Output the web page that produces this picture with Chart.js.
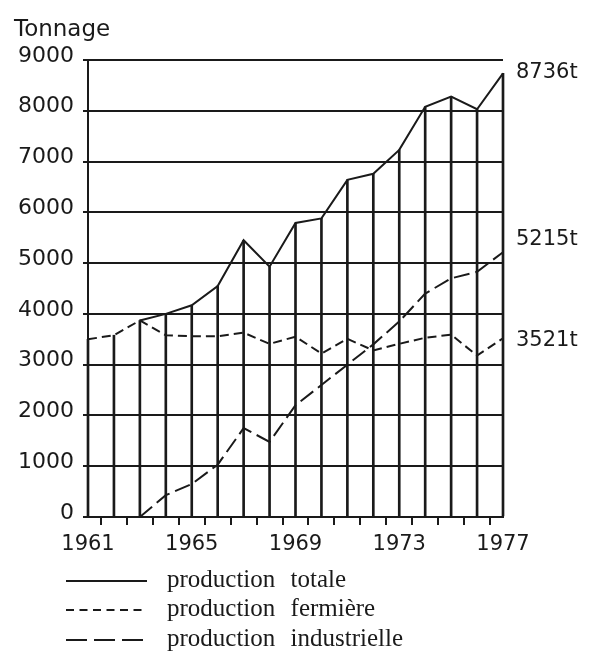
<!DOCTYPE html>
<html>
<head>
<meta charset="utf-8">
<script src="https://cdn.jsdelivr.net/npm/chart.js@4/dist/chart.umd.min.js"></script>
<style>
  html, body { margin: 0; padding: 0; background: #fff; }
  #wrap { width: 591px; height: 655px; position: relative; }
</style>
</head>
<body>
<div id="wrap"><canvas id="c" width="591" height="655"></canvas></div>
<script>
// ---- data ----
const years = [1961,1962,1963,1964,1965,1966,1967,1968,1969,1970,1971,1972,1973,1974,1975,1976,1977];
const totale = [null,null,3870,4000,4170,4550,5450,4930,5790,5880,6640,6760,7230,8080,8280,8030,8736];
const fermiere = [3500,3580,3870,3580,3560,3560,3630,3410,3550,3220,3510,3280,3410,3530,3590,3180,3521];
const industrielle = [null,null,0,430,650,1030,1750,1480,2200,2600,3000,3400,3850,4400,4700,4830,5215];
const labelledYears = [1961,1965,1969,1973,1977];
const yMin = 0, yMax = 9000, yStep = 1000;
const axisTitle = 'Tonnage';
const endLabels = ['8736t', '5215t', '3521t'];
const legendLabels = ['production totale', 'production fermière', 'production industrielle'];

// drop lines reach the top curve (total, or farm production before 1963)
const dropTops = years.map((y, i) => totale[i] !== null ? totale[i] : fermiere[i]);

const INK = '#1a1a1a';
const sansFont = '"DejaVu Sans", sans-serif';
const serifFont = '"Liberation Serif", serif';

const decorPlugin = {
  id: 'decor',
  afterDraw(chart) {
    const ctx = chart.ctx;
    const xs = chart.scales.x, ys = chart.scales.y;
    ctx.save();
    ctx.fillStyle = INK;
    // axis title
    ctx.font = '23px ' + sansFont;
    ctx.textAlign = 'left';
    ctx.textBaseline = 'alphabetic';
    ctx.fillText(axisTitle, 14, 36);

    // end-of-series labels
    ctx.font = '21px ' + sansFont;
    ctx.textBaseline = 'middle';
    const last = years.length - 1;
    const ends = [totale[last], industrielle[last], fermiere[last]];
    const dys = [-1, -13, 2];
    const xr = xs.getPixelForValue(last) + 13;
    ends.forEach((v, k) => {
      ctx.fillText(endLabels[k], xr, ys.getPixelForValue(v) + dys[k]);
    });

    // legend
    const dashes = [[], [8, 5.5], [21, 7]];
    const rowY = [581, 610, 640];
    ctx.strokeStyle = INK;
    ctx.lineWidth = 2;
    ctx.font = '25px ' + serifFont;
    if ('wordSpacing' in ctx) ctx.wordSpacing = '9px';
    legendLabels.forEach((t, k) => {
      ctx.setLineDash(dashes[k]);
      ctx.beginPath();
      ctx.moveTo(66, rowY[k]);
      ctx.lineTo(147, rowY[k]);
      ctx.stroke();
      ctx.fillText(t, 167, rowY[k] - 1);
    });
    ctx.restore();
  }
};

new Chart(document.getElementById('c'), {
  type: 'line',
  data: {
    labels: years,
    datasets: [
      {
        type: 'bar',
        label: 'drop',
        data: dropTops,
        backgroundColor: INK,
        borderWidth: 0,
        barThickness: 2,
        clip: false,
        order: 4
      },
      {
        label: legendLabels[0],
        data: totale,
        borderColor: INK,
        borderWidth: 2,
        pointRadius: 0,
        tension: 0,
        fill: false,
        clip: false,
        order: 1
      },
      {
        label: legendLabels[1],
        data: fermiere,
        borderColor: INK,
        borderWidth: 2,
        borderDash: [9, 5],
        pointRadius: 0,
        tension: 0,
        fill: false,
        clip: false,
        order: 2
      },
      {
        label: legendLabels[2],
        data: industrielle,
        borderColor: INK,
        borderWidth: 2,
        borderDash: [16, 6],
        pointRadius: 0,
        tension: 0,
        fill: false,
        clip: false,
        order: 3
      }
    ]
  },
  options: {
    responsive: false,
    animation: false,
    devicePixelRatio: 1,
    layout: { padding: { top: 60, right: 88, bottom: 98, left: 0 } },
    plugins: { legend: { display: false }, tooltip: { enabled: false }, title: { display: false } },
    scales: {
      x: {
        type: 'category',
        offset: false,
        afterFit(s) { s.height = 40; },
        grid: { drawOnChartArea: false, drawTicks: true, tickLength: 8, color: INK, lineWidth: 2 },
        border: { display: true, color: INK, width: 2 },
        ticks: {
          autoSkip: false,
          maxRotation: 0,
          padding: 7,
          color: INK,
          font: { family: sansFont, size: 21 },
          callback(v, i) { return labelledYears.includes(years[i]) ? String(years[i]) : ''; }
        }
      },
      y: {
        min: yMin,
        max: yMax,
        afterFit(s) { s.width = 88; },
        grid: { drawOnChartArea: true, drawTicks: true, tickLength: 5, color: INK, lineWidth: 2 },
        border: { display: true, color: INK, width: 2 },
        ticks: {
          stepSize: yStep,
          padding: 9,
          labelOffset: -4,
          color: INK,
          font: { family: sansFont, size: 22 },
          callback(v) { return String(v); }
        }
      }
    }
  },
  plugins: [decorPlugin]
});
</script>
</body>
</html>
